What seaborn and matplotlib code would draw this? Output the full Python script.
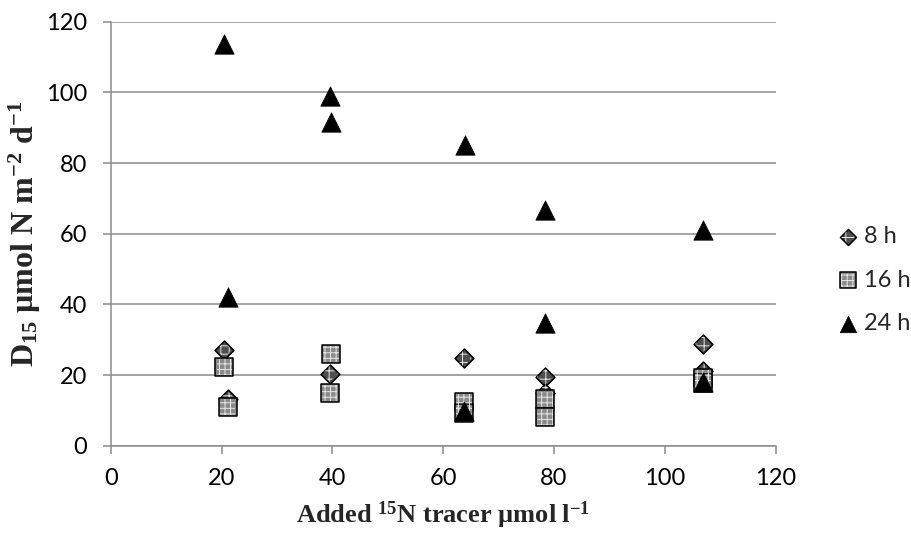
import matplotlib
matplotlib.use("Agg")
import matplotlib.pyplot as plt
from matplotlib.legend_handler import HandlerTuple
import pandas as pd
import seaborn as sns

# Denitrification rate D15 vs. amount of added 15N tracer, per incubation time
x_8h = [20.5, 21.1, 39.5, 63.7, 78.4, 78.4, 106.9, 106.9]
y_8h = [27.1, 13.2, 20.3, 24.7, 19.5, 15.0, 28.8, 21.2]

x_16h = [20.5, 21.1, 39.8, 39.5, 63.7, 63.8, 78.4, 78.4, 106.9, 106.9]
y_16h = [22.3, 11.0, 25.9, 15.0, 12.5, 9.2, 13.1, 8.1, 19.2, 17.7]

x_24h = [20.5, 21.1, 39.5, 39.7, 63.9, 63.7, 78.4, 78.4, 106.9, 106.9]
y_24h = [113.8, 42.0, 99.1, 91.6, 85.0, 9.9, 66.6, 34.7, 61.0, 18.1]

series_labels = ["8 h", "16 h", "24 h"]
x_ticks = [0, 20, 40, 60, 80, 100, 120]
y_ticks = [0, 20, 40, 60, 80, 100, 120]

sns.set_theme(style="white")
plt.rcParams["font.family"] = ["Lato", "DejaVu Sans"]
plt.rcParams["mathtext.fontset"] = "custom"
plt.rcParams["mathtext.rm"] = "Liberation Serif:bold"
plt.rcParams["mathtext.bf"] = "Liberation Serif:bold"
plt.rcParams["mathtext.it"] = "Liberation Serif:bold"
plt.rcParams["hatch.linewidth"] = 0.7

fig = plt.figure(figsize=(9.11, 5.35), dpi=100)
ax = fig.add_axes([0.1215, 0.1669, 0.73, 0.7925])

# marker, size, base fill, light texture pattern, edge width
styles = [
    dict(marker="D", s=92, color="#4f4f4f", hatch="++", lw=1.1),
    dict(marker="s", s=175, color="#8a8a8a", hatch="+++", lw=1.1),
    dict(marker="^", s=195, color="black", hatch=None, lw=0.5),
]
data = [(x_8h, y_8h), (x_16h, y_16h), (x_24h, y_24h)]

legend_handles = []
for z, (label, (xs, ys), st) in enumerate(zip(series_labels, data, styles)):
    df = pd.DataFrame({"x": xs, "y": ys})
    sns.scatterplot(data=df, x="x", y="y", ax=ax, marker=st["marker"], s=st["s"],
                    color=st["color"], edgecolor="black", linewidth=st["lw"],
                    legend=False, zorder=3 + 2 * z)
    parts = [ax.collections[-1]]
    if st["hatch"]:
        # light dotted texture drawn inside the marker outline
        tex = ax.scatter(xs, ys, marker=st["marker"], s=st["s"] * 0.72,
                         facecolor="none", edgecolor="#e6e6e6", linewidth=0,
                         hatch=st["hatch"], zorder=4 + 2 * z)
        parts.append(tex)
    legend_handles.append(tuple(parts))

ax.set_xlim(0, 120)
ax.set_ylim(0, 120)
ax.set_xticks(x_ticks)
ax.set_yticks(y_ticks)
ax.set_xticklabels([str(t) for t in x_ticks])
ax.set_yticklabels([str(t) for t in y_ticks])

grid_col = "#8c8c8c"
ax.yaxis.grid(True, color=grid_col, linewidth=1.1, zorder=0)
ax.xaxis.grid(False)
ax.set_axisbelow(True)
for side in ["top", "right"]:
    ax.spines[side].set_visible(False)
for side in ["left", "bottom"]:
    ax.spines[side].set_color(grid_col)
    ax.spines[side].set_linewidth(1.1)

ax.tick_params(axis="both", which="major", direction="out", length=6, width=1.1,
               color=grid_col, labelsize=17, labelcolor="black",
               bottom=True, left=True)
ax.tick_params(axis="x", pad=10)
ax.tick_params(axis="y", pad=11)

ax.set_xlabel(r"Added $^{\mathbf{15}}$N tracer µmol l$^{\mathbf{-1}}$",
              fontfamily="Liberation Serif", fontweight="bold", fontsize=19)
ax.set_ylabel(r"D$_{\mathbf{15}}$ µmol N m$^{\mathbf{-2}}$ d$^{\mathbf{-1}}$",
              fontfamily="Liberation Serif", fontweight="bold", fontsize=23)
ax.xaxis.label.set_va("center")
ax.yaxis.label.set_va("center")
ax.xaxis.set_label_coords(0.5, -0.165)
ax.yaxis.set_label_coords(-0.129, 0.5)

ax.legend(legend_handles, series_labels, loc="center left",
          bbox_to_anchor=(0.9177, 0.4766), bbox_transform=fig.transFigure,
          frameon=False, fontsize=17, handlelength=1.0, handletextpad=0.2,
          labelspacing=0.95, borderpad=0, borderaxespad=0, markerscale=0.85,
          handler_map={tuple: HandlerTuple(ndivide=1, pad=0)})

fig.savefig("out.png", dpi=100)
